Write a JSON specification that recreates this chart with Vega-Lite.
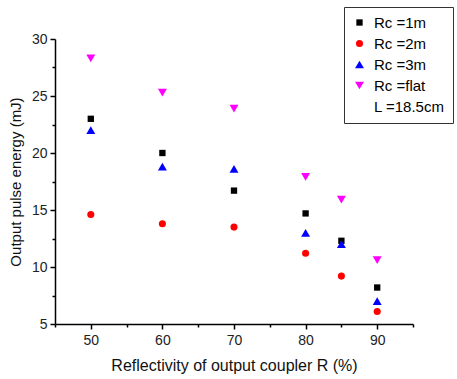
{
  "$schema": "https://vega.github.io/schema/vega-lite/v6.json",
  "width": 358,
  "height": 285,
  "autosize": {"type": "none"},
  "padding": {"left": 55, "top": 39, "right": 44, "bottom": 55},
  "background": "white",
  "config": {"view": {"stroke": null}, "font": "Liberation Sans"},
  "data": {"values": [
    {"R": 50, "series": "Rc =1m", "E": 23.0},
    {"R": 60, "series": "Rc =1m", "E": 20.0},
    {"R": 70, "series": "Rc =1m", "E": 16.7},
    {"R": 80, "series": "Rc =1m", "E": 14.7},
    {"R": 85, "series": "Rc =1m", "E": 12.3},
    {"R": 90, "series": "Rc =1m", "E": 8.2},
    {"R": 50, "series": "Rc =2m", "E": 14.6},
    {"R": 60, "series": "Rc =2m", "E": 13.8},
    {"R": 70, "series": "Rc =2m", "E": 13.5},
    {"R": 80, "series": "Rc =2m", "E": 11.2},
    {"R": 85, "series": "Rc =2m", "E": 9.2},
    {"R": 90, "series": "Rc =2m", "E": 6.1},
    {"R": 50, "series": "Rc =3m", "E": 22.0},
    {"R": 60, "series": "Rc =3m", "E": 18.8},
    {"R": 70, "series": "Rc =3m", "E": 18.6},
    {"R": 80, "series": "Rc =3m", "E": 13.0},
    {"R": 85, "series": "Rc =3m", "E": 12.0},
    {"R": 90, "series": "Rc =3m", "E": 7.0},
    {"R": 50, "series": "Rc =flat", "E": 28.3},
    {"R": 60, "series": "Rc =flat", "E": 25.3},
    {"R": 70, "series": "Rc =flat", "E": 23.9},
    {"R": 80, "series": "Rc =flat", "E": 17.9},
    {"R": 85, "series": "Rc =flat", "E": 15.9},
    {"R": 90, "series": "Rc =flat", "E": 10.6}
  ]},
  "mark": {"type": "point", "filled": true, "opacity": 1, "strokeWidth": 0},
  "encoding": {
    "x": {
      "field": "R", "type": "quantitative",
      "scale": {"domain": [45, 95], "nice": false, "zero": false},
      "axis": {
        "title": "Reflectivity of output coupler R (%)",
        "titleFontSize": 16, "titleFontWeight": "normal", "titleColor": "#111", "titlePadding": 10,
        "labelFontSize": 14, "labelColor": "#222", "labelFlush": false, "labelOverlap": false, "labelPadding": 4,
        "values": [45, 50, 55, 60, 65, 70, 75, 80, 85, 90, 95],
        "labelExpr": "datum.value % 10 === 0 ? datum.label : ''",
        "tickSize": {"condition": {"test": "datum.value % 10 === 0", "value": 5}, "value": 3},
        "tickColor": "#000", "tickWidth": 1.5, "domainColor": "#000", "domainWidth": 1.5, "grid": false
      }
    },
    "y": {
      "field": "E", "type": "quantitative",
      "scale": {"domain": [5, 30], "nice": false, "zero": false},
      "axis": {
        "title": "Output pulse energy (mJ)",
        "titleFontSize": 15, "titleFontWeight": "normal", "titleColor": "#111", "titlePadding": 8,
        "labelFontSize": 14, "labelColor": "#222", "labelFlush": false, "labelOverlap": false, "labelPadding": 3,
        "values": [5, 7.5, 10, 12.5, 15, 17.5, 20, 22.5, 25, 27.5, 30],
        "labelExpr": "datum.value % 5 === 0 ? datum.label : ''",
        "tickSize": {"condition": {"test": "datum.value % 5 === 0", "value": 5}, "value": 3},
        "tickColor": "#000", "tickWidth": 1.5, "domainColor": "#000", "domainWidth": 1.5, "grid": false
      }
    },
    "color": {
      "field": "series", "type": "ordinal",
      "scale": {"domain": ["Rc =1m", "Rc =2m", "Rc =3m", "Rc =flat", "L =18.5cm"], "range": ["#000000", "#ff0000", "#0000ff", "#ff00ff", "transparent"]},
      "legend": {
        "orient": "none", "legendX": 289, "legendY": -32, "title": null,
        "labelFontSize": 15, "labelColor": "#000", "labelOffset": 7, "labelLimit": 200,
        "rowPadding": 5, "padding": 8, "strokeColor": "#333", "fillColor": "white", "symbolOffset": 0
      }
    },
    "shape": {
      "field": "series", "type": "ordinal",
      "scale": {"domain": ["Rc =1m", "Rc =2m", "Rc =3m", "Rc =flat", "L =18.5cm"], "range": ["square", "circle", "triangle-up", "triangle-down", "circle"]},
      "legend": {
        "orient": "none", "legendX": 289, "legendY": -32, "title": null,
        "labelFontSize": 15, "labelColor": "#000", "labelOffset": 7, "labelLimit": 200,
        "rowPadding": 5, "padding": 8, "strokeColor": "#333", "fillColor": "white", "symbolOffset": 0
      }
    },
    "size": {
      "field": "series", "type": "ordinal",
      "scale": {"type": "ordinal", "domain": ["Rc =1m", "Rc =2m", "Rc =3m", "Rc =flat", "L =18.5cm"], "range": [40, 50, 80, 80, 10]},
      "legend": {
        "orient": "none", "legendX": 289, "legendY": -32, "title": null,
        "labelFontSize": 15, "labelColor": "#000", "labelOffset": 7, "labelLimit": 200,
        "rowPadding": 5, "padding": 8, "strokeColor": "#333", "fillColor": "white", "symbolOffset": 0
      }
    }
  }
}
